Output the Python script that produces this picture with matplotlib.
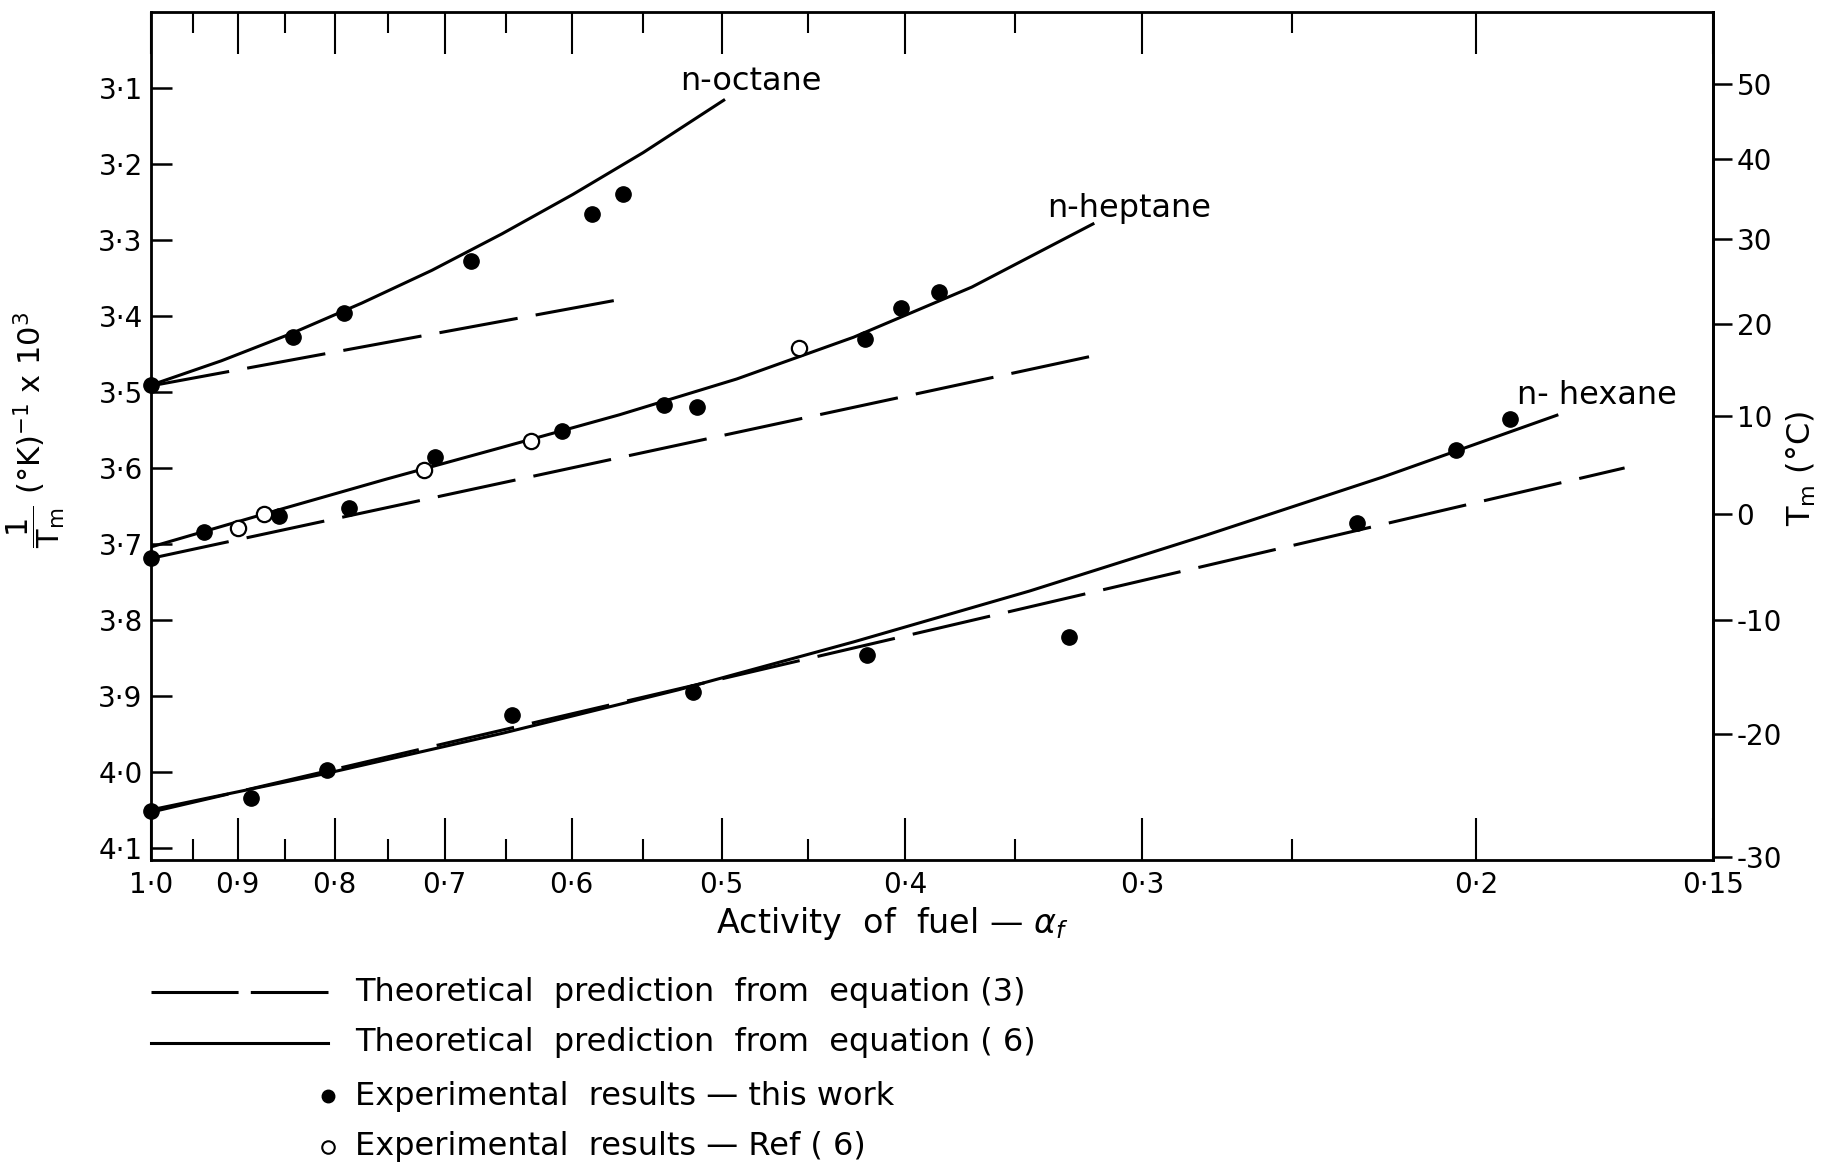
import numpy as np
import matplotlib
matplotlib.use('Agg')
import matplotlib.pyplot as plt
from matplotlib.ticker import FixedLocator, FixedFormatter, NullFormatter
from matplotlib.lines import Line2D

plt.rcParams['font.family'] = ['DejaVu Sans']
plt.rcParams['mathtext.fontset'] = 'dejavusans'

# ---- data: activity of fuel, 1/Tm x 10^3 ----
# n-octane
oct_eq6_a = [1.0, 0.918, 0.843, 0.774, 0.711, 0.653, 0.599, 0.550, 0.498]
oct_eq6_y = [3.491, 3.459, 3.423, 3.383, 3.340, 3.292, 3.240, 3.185, 3.115]
oct_eq3_a = [1.0, 0.562]
oct_eq3_y = [3.492, 3.377]
oct_pts_a = [1.0, 0.842, 0.791, 0.678, 0.585, 0.564]
oct_pts_y = [3.491, 3.428, 3.396, 3.328, 3.266, 3.240]

# n-heptane
hep_eq6_a = [1.0, 0.867, 0.752, 0.653, 0.566, 0.491, 0.426, 0.369, 0.318]
hep_eq6_y = [3.704, 3.659, 3.615, 3.573, 3.530, 3.483, 3.428, 3.362, 3.278]
hep_eq3_a = [1.0, 0.315]
hep_eq3_y = [3.719, 3.450]
hep_pts_a = [1.0, 0.938, 0.856, 0.786, 0.708, 0.607, 0.536, 0.515, 0.420, 0.402, 0.384]
hep_pts_y = [3.719, 3.684, 3.663, 3.653, 3.585, 3.552, 3.517, 3.520, 3.430, 3.389, 3.369]
hep_ref_a = [0.900, 0.872, 0.718, 0.630, 0.455]
hep_ref_y = [3.679, 3.661, 3.603, 3.565, 3.442]

# n-hexane
hex_eq6_a = [1.0, 0.808, 0.652, 0.527, 0.426, 0.344, 0.278, 0.224, 0.181]
hex_eq6_y = [4.050, 4.002, 3.949, 3.892, 3.829, 3.762, 3.689, 3.612, 3.530]
hex_eq3_a = [1.0, 0.167]
hex_eq3_y = [4.053, 3.600]
hex_pts_a = [1.0, 0.886, 0.808, 0.645, 0.518, 0.419, 0.328, 0.231, 0.205, 0.192]
hex_pts_y = [4.052, 4.035, 3.998, 3.925, 3.895, 3.846, 3.822, 3.673, 3.576, 3.535]

# axes ticks
x_major = [1.0, 0.9, 0.8, 0.7, 0.6, 0.5, 0.4, 0.3, 0.2, 0.15]
x_major_lbl = ['1·0', '0·9', '0·8', '0·7', '0·6', '0·5', '0·4', '0·3', '0·2', '0·15']
x_minor = [0.95, 0.85, 0.75, 0.65, 0.55, 0.45, 0.35, 0.25]
y_major = [3.1, 3.2, 3.3, 3.4, 3.5, 3.6, 3.7, 3.8, 3.9, 4.0, 4.1]
y_major_lbl = ['3·1', '3·2', '3·3', '3·4', '3·5', '3·6', '3·7', '3·8', '3·9', '4·0', '4·1']
t_celsius = [50, 40, 30, 20, 10, 0, -10, -20, -30]

W, H = 1823, 1165
fig = plt.figure(figsize=(W / 100, H / 100), dpi=100)
ax = fig.add_axes([151 / W, 1 - 860 / H, (1713 - 151) / W, (860 - 12) / H])

lw = 2.2
dash = (26, 6)
for a, y in [(oct_eq6_a, oct_eq6_y), (hep_eq6_a, hep_eq6_y), (hex_eq6_a, hex_eq6_y)]:
    ax.plot(a, y, color='black', lw=lw, solid_capstyle='butt', solid_joinstyle='round')
for a, y in [(oct_eq3_a, oct_eq3_y), (hep_eq3_a, hep_eq3_y), (hex_eq3_a, hex_eq3_y)]:
    ax.plot(a, y, color='black', lw=lw, dashes=dash)
for a, y in [(oct_pts_a, oct_pts_y), (hep_pts_a, hep_pts_y), (hex_pts_a, hex_pts_y)]:
    ax.plot(a, y, 'o', color='black', ms=11, clip_on=False, zorder=4)
ax.plot(hep_ref_a, hep_ref_y, 'o', mfc='white', mec='black', mew=1.6, ms=11, zorder=4)

ax.set_xscale('log')
ax.set_xlim(1.0, 0.15)
ax.set_ylim(4.116, 3.0)

ax.xaxis.set_major_locator(FixedLocator(x_major))
ax.xaxis.set_major_formatter(FixedFormatter(x_major_lbl))
ax.xaxis.set_minor_locator(FixedLocator(x_minor))
ax.xaxis.set_minor_formatter(NullFormatter())
ax.yaxis.set_major_locator(FixedLocator(y_major))
ax.yaxis.set_major_formatter(FixedFormatter(y_major_lbl))
ax.yaxis.set_minor_locator(FixedLocator([]))

ax.tick_params(axis='x', which='major', direction='in', length=30, width=1.5,
               top=True, labelsize=20, pad=8)
ax.tick_params(axis='x', which='minor', direction='in', length=15, width=1.5, top=True)
ax.tick_params(axis='y', which='major', direction='in', length=15, width=1.8,
               right=True, labelsize=20, pad=6)
for s in ax.spines.values():
    s.set_linewidth(2.0)

# right-hand temperature scale (°C) placed at 1000/(T+273.15)
ax2 = ax.twinx()
ax2.set_ylim(ax.get_ylim())
ax2.set_yticks([1000.0 / (t + 273.15) for t in t_celsius])
ax2.set_yticklabels([str(t) for t in t_celsius])
ax2.tick_params(axis='y', direction='out', length=14, width=1.8, labelsize=20, pad=3)
ax2.spines['right'].set_linewidth(2.0)

ax.annotate('n-octane', xy=(751 / W, 1 - 81 / H), xycoords='figure fraction',
            ha='center', va='center', fontsize=23)
ax.annotate('n-heptane', xy=(1129 / W, 1 - 209 / H), xycoords='figure fraction',
            ha='center', va='center', fontsize=23)
ax.annotate('n- hexane', xy=(1597 / W, 1 - 396 / H), xycoords='figure fraction',
            ha='center', va='center', fontsize=23)

fig.text(892 / W, 1 - 924 / H, r'Activity  of  fuel — $\alpha_f$', ha='center',
         va='center', fontsize=24)
fig.text(36 / W, 1 - 430 / H, r'$\dfrac{1}{\mathrm{T_m}}$ (°K)$^{-1}$ x 10$^3$',
         rotation=90, ha='center', va='center', fontsize=22)
fig.text(1801 / W, 1 - 468 / H, r'T$_\mathrm{m}$ (°C)', rotation=90,
         ha='center', va='center', fontsize=23)

# legend drawn below the axes
rows = [992, 1043, 1096, 1147]
x0, x1, xt = 151 / W, 328 / W, 355 / W
fig.add_artist(Line2D([x0, x1], [1 - rows[0] / H] * 2, color='black', lw=lw,
                      dashes=(28.5, 4)))
fig.add_artist(Line2D([x0, x1], [1 - rows[1] / H] * 2, color='black', lw=lw))
fig.add_artist(Line2D([x1], [1 - rows[2] / H], marker='o', color='black', ms=9))
fig.add_artist(Line2D([x1], [1 - rows[3] / H], marker='o', mfc='white', mec='black',
                      mew=1.5, ms=9))
legend_txt = ['Theoretical  prediction  from  equation (3)',
              'Theoretical  prediction  from  equation ( 6)',
              'Experimental  results — this work',
              'Experimental  results — Ref ( 6)']
for r, t in zip(rows, legend_txt):
    fig.text(xt, 1 - r / H, t, ha='left', va='center', fontsize=23)

fig.savefig('out.png', dpi=100)
